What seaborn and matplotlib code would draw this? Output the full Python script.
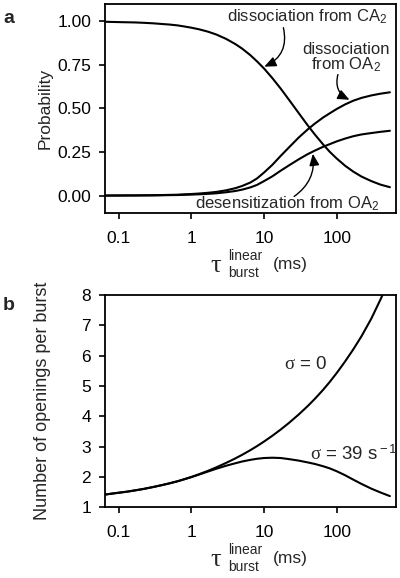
import numpy as np
import pandas as pd
import seaborn as sns
import matplotlib
matplotlib.use('Agg')
import matplotlib.pyplot as plt
from matplotlib.ticker import FixedLocator, NullLocator

# panel a: probability of each route out of the burst
tau_a = [0.065, 0.08, 0.1, 0.13, 0.17, 0.22, 0.3, 0.4, 0.5, 0.65, 0.8, 1, 1.3, 1.7, 2.2,
         3, 4, 5, 6.5, 8, 10, 13, 17, 22, 30, 40, 50, 65, 80, 100, 130, 170, 220, 300,
         400, 540]
diss_ca2 = [0.998, 0.997, 0.996, 0.995, 0.994, 0.992, 0.989, 0.985, 0.982, 0.977, 0.971,
            0.964, 0.954, 0.941, 0.925, 0.9, 0.871, 0.844, 0.806, 0.771, 0.73, 0.675,
            0.614, 0.551, 0.474, 0.403, 0.351, 0.294, 0.252, 0.213, 0.172, 0.137, 0.109,
            0.083, 0.063, 0.048]
diss_oa2 = [0.0, 0.0003, 0.0005, 0.0008, 0.001, 0.0015, 0.002, 0.003, 0.004, 0.005, 0.007,
            0.009, 0.012, 0.016, 0.021, 0.03, 0.042, 0.055, 0.075, 0.098, 0.132, 0.176,
            0.228, 0.276, 0.333, 0.38, 0.413, 0.448, 0.472, 0.497, 0.523, 0.545, 0.561,
            0.575, 0.585, 0.593]
desens_oa2 = [0.0, 0.0002, 0.0003, 0.0005, 0.0006, 0.0009, 0.0013, 0.0019, 0.0025, 0.0031,
              0.0044, 0.0056, 0.0075, 0.01, 0.013, 0.019, 0.026, 0.034, 0.047, 0.061,
              0.083, 0.11, 0.143, 0.173, 0.208, 0.238, 0.258, 0.28, 0.295, 0.311, 0.327,
              0.341, 0.351, 0.359, 0.366, 0.372]

# panel b: openings per burst
tau_b0 = [0.065, 0.08, 0.1, 0.13, 0.17, 0.22, 0.3, 0.4, 0.5, 0.65, 0.8, 1, 1.3, 1.7, 2.2,
          3, 4, 5, 6.5, 8, 10, 13, 17, 22, 30, 40, 50, 65, 80, 100, 130, 170, 220, 300,
          400, 460]
open_sigma0 = [1.42, 1.45, 1.48, 1.515, 1.56, 1.605, 1.67, 1.735, 1.79, 1.86, 1.925, 2.0,
               2.097, 2.204, 2.316, 2.462, 2.608, 2.73, 2.885, 3.016, 3.167, 3.357, 3.565,
               3.78, 4.059, 4.339, 4.574, 4.873, 5.129, 5.426, 5.802, 6.215, 6.644, 7.224,
               7.849, 8.17]
tau_b39 = [0.065, 0.08, 0.1, 0.13, 0.17, 0.22, 0.3, 0.4, 0.5, 0.65, 0.8, 1, 1.3, 1.7, 2.2,
           3, 4, 5, 6.5, 8, 10, 13, 17, 22, 30, 40, 50, 65, 80, 100, 130, 170, 220, 300,
           400, 540]
open_sigma39 = [1.42, 1.45, 1.48, 1.515, 1.56, 1.605, 1.67, 1.735, 1.79, 1.86, 1.925,
                1.995, 2.085, 2.18, 2.27, 2.37, 2.45, 2.51, 2.565, 2.60, 2.625, 2.635,
                2.625, 2.59, 2.54, 2.48, 2.43, 2.355, 2.285, 2.19, 2.06, 1.91, 1.77,
                1.615, 1.49, 1.37]

xticks = [0.1, 1, 10, 100]
xticklabels = ['0.1', '1', '10', '100']

sns.set_style('ticks')
plt.rcParams['font.family'] = ['Liberation Sans', 'DejaVu Sans']
plt.rcParams['mathtext.fontset'] = 'custom'
plt.rcParams['mathtext.rm'] = 'Liberation Sans'
plt.rcParams['mathtext.it'] = 'Liberation Serif'
plt.rcParams['axes.linewidth'] = 1.3

fig = plt.figure(figsize=(4.0, 5.78), dpi=100)
ax_a = fig.add_axes([0.2625, 0.6315, 0.7275, 0.3616])
ax_b = fig.add_axes([0.2625, 0.1223, 0.7275, 0.3673])


def style_axis(ax):
    ax.set_xscale('log')
    ax.set_xlim(0.065, 655)
    ax.xaxis.set_major_locator(FixedLocator(xticks))
    ax.xaxis.set_minor_locator(NullLocator())
    ax.set_xticklabels(xticklabels)
    ax.set_xlabel('')
    ax.tick_params(axis='both', direction='out', length=4, width=1.2, colors='k',
                   labelsize=12.5)
    ax.tick_params(axis='x', pad=9)
    ax.tick_params(axis='y', pad=6)
    for s in ax.spines.values():
        s.set_color('k')
        s.set_linewidth(1.3)
    # tau with stacked "linear"/"burst" and the unit
    kw = dict(xy=(0, 0), xycoords='axes fraction', textcoords='offset points',
              annotation_clip=False)
    ax.annotate('\u03c4', xytext=(80, -38), ha='center', va='center', fontsize=19,
                family='Liberation Serif', **kw)
    ax.annotate('linear', xytext=(89, -31), ha='left', va='center', fontsize=10, **kw)
    ax.annotate('burst', xytext=(89, -43), ha='left', va='center', fontsize=10, **kw)
    ax.annotate('(ms)', xytext=(121, -37), ha='left', va='center', fontsize=12.5, **kw)


arrow_kw = dict(arrowstyle='-|>,head_length=0.7,head_width=0.3', color='k', lw=1.0,
                shrinkA=0, shrinkB=0, mutation_scale=10)

# panel a
sns.lineplot(x=tau_a, y=diss_ca2, ax=ax_a, color='k', lw=1.5)
sns.lineplot(x=tau_a, y=diss_oa2, ax=ax_a, color='k', lw=1.5)
sns.lineplot(x=tau_a, y=desens_oa2, ax=ax_a, color='k', lw=1.5)
style_axis(ax_a)
ax_a.set_ylim(-0.1, 1.1)
ax_a.set_yticks([0, 0.25, 0.5, 0.75, 1.0])
ax_a.set_yticklabels(['0.00', '0.25', '0.50', '0.75', '1.00'])
ax_a.set_ylabel('Probability', fontsize=12.5)
ax_a.yaxis.set_label_coords(-0.179, 0.5)

ax_a.text(508, 1.0, r'dissociation from CA$_{\rm 2}$', ha='right', va='baseline', fontsize=12)
ax_a.annotate('', xy=(10.1, 0.74), xytext=(18.5, 0.964),
              arrowprops=dict(connectionstyle='arc3,rad=-0.4', **arrow_kw))
ax_a.text(134, 0.79, 'dissociation\n' + r'from OA$_{\rm 2}$', ha='center', va='center',
          fontsize=12, linespacing=0.95)
ax_a.annotate('', xy=(150, 0.55), xytext=(104, 0.695),
              arrowprops=dict(connectionstyle='arc3,rad=0.4', **arrow_kw))
ax_a.text(395, -0.075, r'desensitization from OA$_{\rm 2}$', ha='right', va='baseline',
          fontsize=12)
ax_a.annotate('', xy=(47, 0.24), xytext=(26, -0.005),
              arrowprops=dict(connectionstyle='arc3,rad=0.3', **arrow_kw))

# panel b
sns.lineplot(x=tau_b0, y=open_sigma0, ax=ax_b, color='k', lw=1.5)
sns.lineplot(x=tau_b39, y=open_sigma39, ax=ax_b, color='k', lw=1.5)
style_axis(ax_b)
ax_b.set_ylim(1, 8)
ax_b.set_yticks(range(1, 9))
ax_b.set_ylabel('Number of openings per burst', fontsize=13)
ax_b.yaxis.set_label_coords(-0.186, 0.5)
ax_b.text(19, 5.55, r'$\sigma$ = 0', ha='left', va='baseline', fontsize=13.5)
ax_b.text(43, 2.57, r'$\sigma$ = 39 s$^{\rm -1}$', ha='left', va='baseline', fontsize=13.5)

fig.text(3 / 400, 1 - 23 / 578, 'a', fontsize=14, fontweight='bold', va='baseline')
fig.text(3 / 400, 1 - 310 / 578, 'b', fontsize=14, fontweight='bold', va='baseline')

fig.savefig('out.png', dpi=100)
